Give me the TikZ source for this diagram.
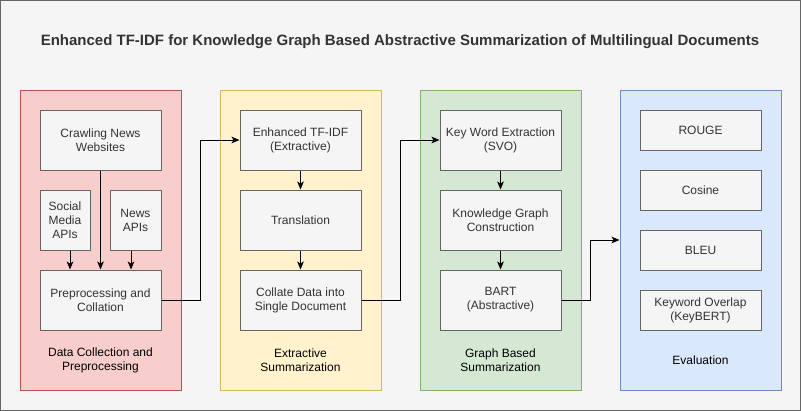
\documentclass[tikz,border=0pt]{standalone}
\usepackage{xcolor}
\usepackage{fontspec}
\setmainfont{Liberation Sans}
\usepackage{tikz}
\usetikzlibrary{calc, arrows.meta}

\definecolor{bgfill}{HTML}{F5F5F5}
\definecolor{bgline}{HTML}{666666}
\definecolor{boxtext}{HTML}{333333}
\definecolor{redfill}{HTML}{F8CECC}
\definecolor{redline}{HTML}{B85450}
\definecolor{yellowfill}{HTML}{FFF2CC}
\definecolor{yellowline}{HTML}{D6B656}
\definecolor{greenfill}{HTML}{D5E8D4}
\definecolor{greenline}{HTML}{82B366}
\definecolor{bluefill}{HTML}{DAE8FC}
\definecolor{blueline}{HTML}{6C8EBF}

\tikzset{
  stagebox/.style={draw=bgline, fill=bgfill, text=boxtext, line width=0.75pt,
    minimum width=90.75pt, minimum height=45pt, inner sep=0pt, align=center,
    font=\fontsize{9}{10.5}\selectfont},
  panel/.style={line width=0.75pt, minimum width=120.75pt, minimum height=225pt, inner sep=0pt},
  panellabel/.style={align=center, font=\fontsize{9}{10.5}\selectfont},
  arr/.style={-{Stealth[length=6pt, width=5pt, inset=1.5pt]}, line width=0.75pt}
}

\begin{document}
\begin{tikzpicture}[x=0.75pt, y=-0.75pt]
\useasboundingbox (0,0) rectangle (801,411);
\draw[draw=bgline, fill=bgfill, line width=0.75pt] (0.5,0.5) rectangle (800.5,410.5);

\node[text=boxtext, font=\bfseries\fontsize{11.25}{13}\selectfont] (title) at (400,42)
  {Enhanced TF-IDF for Knowledge Graph Based Abstractive Summarization of Multilingual Documents};

% panels
\node[panel, draw=redline, fill=redfill] (collect) at (100.5,240) {};
\node[panel, draw=yellowline, fill=yellowfill] (extract) at (300.5,240) {};
\node[panel, draw=greenline, fill=greenfill] (graph) at (500.5,240) {};
\node[panel, draw=blueline, fill=bluefill] (eval) at (700.5,240) {};

\node[panellabel] (collectlabel) at (100.5,360) {Data Collection and\\Preprocessing};
\node[panellabel] (extractlabel) at (300.5,360) {Extractive\\Summarization};
\node[panellabel] (graphlabel) at (500.5,360) {Graph Based\\Summarization};
\node[panellabel] (evallabel) at (700.5,360) {Evaluation};

% data collection
\node[stagebox] (crawl) at (100.5,140) {Crawling News\\Websites};
\node[stagebox, minimum width=37.5pt] (social) at (65,220) {Social\\Media\\APIs};
\node[stagebox, minimum width=38.25pt] (news) at (135.5,220) {News\\APIs};
\node[stagebox] (prep) at (100.5,300) {Preprocessing and\\Collation};

% extractive
\node[stagebox] (tfidf) at (300.5,140) {Enhanced TF-IDF\\(Extractive)};
\node[stagebox] (trans) at (300.5,220) {Translation};
\node[stagebox] (collate) at (300.5,300) {Collate Data into\\Single Document};

% graph based
\node[stagebox] (svo) at (500.5,140) {Key Word Extraction\\(SVO)};
\node[stagebox] (kg) at (500.5,220) {Knowledge Graph\\Construction};
\node[stagebox] (bart) at (500.5,300) {BART\\(Abstractive)};

% evaluation
\node[stagebox, minimum height=30pt] (rouge) at (700.5,130) {ROUGE};
\node[stagebox, minimum height=30pt] (cosine) at (700.5,190) {Cosine};
\node[stagebox, minimum height=30pt] (bleu) at (700.5,250) {BLEU};
\node[stagebox, minimum height=30pt] (overlap) at (700.5,310) {Keyword Overlap\\(KeyBERT)};

% connectors
\coordinate (prepleft) at ($(prep.north west)!.25!(prep.north east)$);
\coordinate (prepright) at ($(prep.north west)!.75!(prep.north east)$);
\draw[arr] (crawl.south) -- (prep.north);
\draw[arr] (social.south -| prepleft) -- (prepleft);
\draw[arr] (news.south -| prepright) -- (prepright);

\draw[arr] (tfidf) -- (trans);
\draw[arr] (trans) -- (collate);
\draw[arr] (svo) -- (kg);
\draw[arr] (kg) -- (bart);

\draw[arr] (prep.east) -| ($(prep.east)!.5!(tfidf.west)$) |- (tfidf.west);
\draw[arr] (collate.east) -| ($(collate.east)!.5!(svo.west)$) |- (svo.west);
\draw[arr] (bart.east) -| ($(bart.east)!.5!(eval.west)$) |- (eval.west);
\end{tikzpicture}
\end{document}
